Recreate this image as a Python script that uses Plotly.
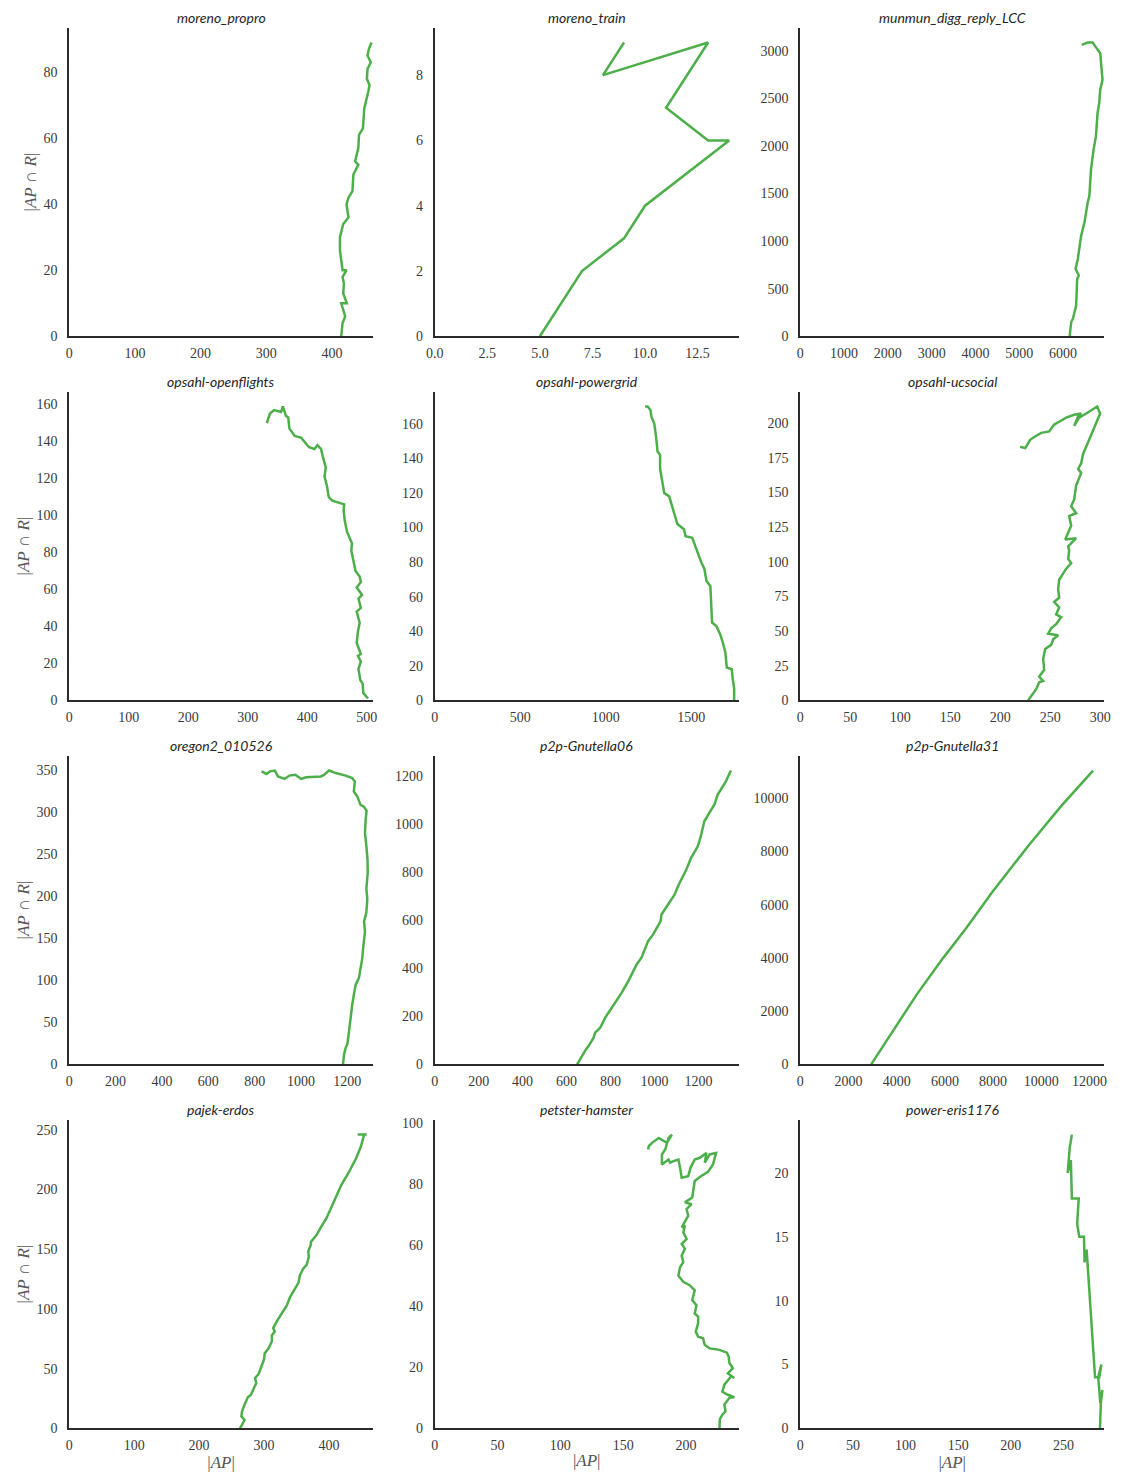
import plotly.graph_objects as go

# ---- datasets: |AP| (x) against |AP ∩ R| (y) along each run ----
titles = [
    "moreno_propro", "moreno_train", "munmun_digg_reply_LCC",
    "opsahl-openflights", "opsahl-powergrid", "opsahl-ucsocial",
    "oregon2_010526", "p2p-Gnutella06", "p2p-Gnutella31",
    "pajek-erdos", "petster-hamster", "power-eris1176",
]

propro_ap = [414, 416, 420, 414, 422.5, 417, 418, 416, 422, 416, 412, 412, 417, 425, 422, 425, 431,
             432.5, 440, 435, 440, 441, 447, 449, 455, 457, 453, 454, 459, 454, 456, 460]
propro_hits = [0, 4, 6, 10, 10, 13, 16, 18, 20, 20, 26, 30, 34, 36, 40, 42, 44,
               49, 52, 53, 57, 61, 63, 69, 74, 76, 78, 81, 83, 85, 87, 89]

train_ap = [5, 7, 9, 10, 14, 13, 11, 13, 8, 9]
train_hits = [0, 2, 3, 4, 6, 6, 7, 9, 8, 9]

digg_ap = [6150, 6188, 6226, 6300, 6323, 6361, 6286, 6338, 6414, 6489, 6564, 6602, 6639, 6677,
           6699, 6752, 6789, 6827, 6850, 6902, 6880, 6850, 6714, 6677, 6564, 6429]
digg_hits = [0, 150, 185, 324, 603, 638, 708, 813, 1057, 1196, 1406, 1475, 1754, 1894,
             1964, 2103, 2347, 2452, 2592, 2696, 2836, 2975, 3062, 3087, 3087, 3062]

flights_ap = [502, 494, 493, 489, 486, 490, 485, 490, 483, 485, 488, 483, 490, 486, 492, 483, 490,
              488, 481, 478, 474, 475, 467, 463, 461, 462, 450, 442, 436, 433, 429, 431, 426, 423,
              417, 412, 403, 400, 390, 379, 370, 368, 364, 359, 356, 344, 337, 332]
flights_hits = [1, 4, 9, 11, 17, 21, 24, 25, 31, 37, 42, 48, 50, 55, 57, 61, 64,
                67, 70, 75, 81, 85, 91, 97, 103, 106, 107, 108, 110, 116, 121, 126, 132, 136,
                138, 136, 137, 138, 142, 143, 147, 153, 154, 159, 156, 157, 155, 150]

grid_ap = [1751, 1751, 1743, 1737, 1708, 1699, 1683, 1670, 1647, 1622, 1618, 1612, 1589, 1577,
           1558, 1544, 1525, 1506, 1467, 1457, 1419, 1405, 1390, 1371, 1342, 1332, 1318, 1318,
           1303, 1295, 1284, 1268, 1261, 1245, 1230]
grid_hits = [0, 7, 12, 18, 19, 28, 34, 38, 43, 45, 53, 66, 69, 76,
             80, 84, 89, 94, 95, 99, 102, 107, 112, 118, 120, 125, 134, 142,
             144, 152, 160, 164, 168, 170, 170]

uc_ap = [228, 233, 236, 239, 243, 239, 244, 243, 245, 251, 253, 258, 248, 251, 256, 261, 256, 259,
         254, 259, 258, 259, 266, 271, 268, 269, 268, 276, 265, 271, 269, 276, 271, 274, 276, 281,
         278, 281, 283, 286, 289, 292, 294, 296, 300, 297, 292, 286, 279, 274, 278, 281, 274, 266,
         259, 254, 249, 241, 234, 230, 225, 220]
uc_hits = [0, 5, 8, 13, 14, 17, 22, 30, 37, 40, 44, 47, 48, 52, 55, 60, 62, 67,
           71, 74, 80, 87, 95, 99, 102, 108, 111, 117, 116, 126, 133, 135, 140, 145, 155, 164,
           167, 171, 178, 183, 188, 193, 196, 200, 207, 212, 210, 207, 204, 198, 205, 207, 206, 204,
           201, 199, 194, 193, 190, 188, 182, 183]

oregon_ap = [1181, 1186, 1193, 1200, 1207, 1214, 1221, 1228, 1236, 1250, 1257, 1264, 1268, 1276,
             1272, 1282, 1286, 1282, 1288, 1287, 1282, 1276, 1279, 1283, 1271, 1257, 1243, 1228,
             1232, 1221, 1193, 1150, 1121, 1100, 1086, 1022, 1000, 976, 950, 929, 901, 887, 866,
             851, 830]
oregon_hits = [0, 12, 20, 24, 39, 59, 71, 83, 95, 103, 114, 126, 138, 158,
               170, 181, 197, 209, 229, 244, 260, 276, 292, 302, 307, 309, 319, 325,
               337, 341, 344, 347, 350, 345, 343, 342, 340, 345, 344, 340, 343, 350, 349,
               346, 349]

gnu06_ap = [648, 670, 688, 700, 723, 730, 753, 776, 806, 839, 851, 881, 904, 919, 941, 961, 971,
            994, 1017, 1028, 1032, 1062, 1092, 1107, 1130, 1145, 1167, 1197, 1209, 1215, 1227,
            1245, 1273, 1288, 1325, 1348]
gnu06_hits = [0, 35, 62, 76, 111, 132, 152, 194, 235, 277, 298, 346, 388, 415, 443, 484, 512,
              540, 581, 595, 623, 664, 706, 740, 782, 810, 858, 906, 941, 969, 1010,
              1038, 1080, 1121, 1176, 1221]

gnu31_ap = [2941, 3450, 4008, 4150, 4829, 5923, 6881, 7975, 9480, 10848, 12147]
gnu31_hits = [0, 700, 1496, 1640, 2618, 3990, 5112, 6484, 8229, 9726, 11035]

erdos_ap = [263, 266, 270, 265, 266, 270, 275, 279.5, 284.5, 288, 286, 292, 296, 300, 301, 307,
            312, 312, 316.5, 314, 320, 328, 335, 340, 348, 353, 355, 360.5, 365.5, 369, 368, 372,
            372, 381, 388, 396, 406, 419, 429, 431, 441.5, 449, 453, 454, 458, 444]
erdos_hits = [0, 3, 7, 10, 14, 20, 26, 28, 34, 38, 42, 46, 52, 58, 63, 67,
              73, 78, 81, 84, 90, 97, 103, 110, 117, 122, 128, 134, 137, 144, 148, 154,
              156, 162, 169, 176, 188, 204, 213, 215, 226, 236, 243, 246, 246, 246]

hamster_ap = [226.7, 227, 229, 231.5, 230.6, 234.6, 238.5, 233.4, 229, 230.6, 235.9, 238.5, 233.4,
              237.3, 234.6, 234, 232.6, 226.7, 218.9, 215, 213.6, 209.7, 207.8, 209.7, 209.7, 207,
              208.4, 205, 207, 203, 197.9, 194, 195.3, 197.9, 196.6, 199.2, 196.6, 200.5, 197.9,
              199.2, 196.6, 201.8, 200.5, 204.5, 199.2, 205, 205.8, 207, 211, 217.5, 221.5, 224,
              218.9, 215, 216.3, 211, 207, 203.7, 201.8, 196.6, 195.3, 194, 190, 187.4, 186.1,
              180.9, 180.9, 183.5, 186.1, 188.8, 184.8, 180.9, 178.3, 173, 170.4, 169.9]
hamster_hits = [0, 3, 4.5, 5.6, 7.8, 10, 10.2, 11, 12, 14.3, 17, 16.5, 18,
                19.7, 21.4, 23.5, 24.8, 25.7, 26.2, 27.3, 29.5, 30, 31.7, 34.4, 36.6, 37.6,
                40.3, 42, 45.2, 46.9, 48, 50, 52.8, 54.4, 56.6, 58.8, 60.4, 62, 64.2,
                66.4, 65.8, 69.6, 71.8, 73.4, 74, 75.6, 77.8, 81, 82.3, 84, 86.4, 90.2,
                89.7, 87, 90.2, 88.6, 88, 85.4, 82.6, 82.1, 85.4, 88, 87.5, 87, 88,
                86.4, 89.7, 91.3, 95.1, 96.2, 93.5, 94.6, 95.1, 93.5, 92.4, 91.3]

eris_ap = [284.7, 285.5, 287, 285, 283, 286, 284, 280, 272, 270, 269.5, 265, 263, 264.5, 258,
           257, 254, 256, 258]
eris_hits = [0, 2, 3, 2, 4, 5, 4, 4, 14, 13, 15, 15, 16, 18, 18,
             21, 20, 22, 23]

series = [
    (propro_ap, propro_hits), (train_ap, train_hits), (digg_ap, digg_hits),
    (flights_ap, flights_hits), (grid_ap, grid_hits), (uc_ap, uc_hits),
    (oregon_ap, oregon_hits), (gnu06_ap, gnu06_hits), (gnu31_ap, gnu31_hits),
    (erdos_ap, erdos_hits), (hamster_ap, hamster_hits), (eris_ap, eris_hits),
]

# ---- tick values per panel ----
x_ticks = [
    [0, 100, 200, 300, 400], [0, 2.5, 5, 7.5, 10, 12.5], [0, 1000, 2000, 3000, 4000, 5000, 6000],
    [0, 100, 200, 300, 400, 500], [0, 500, 1000, 1500], [0, 50, 100, 150, 200, 250, 300],
    [0, 200, 400, 600, 800, 1000, 1200], [0, 200, 400, 600, 800, 1000, 1200],
    [0, 2000, 4000, 6000, 8000, 10000, 12000],
    [0, 100, 200, 300, 400], [0, 50, 100, 150, 200], [0, 50, 100, 150, 200, 250],
]
y_ticks = [
    [0, 20, 40, 60, 80], [0, 2, 4, 6, 8], [0, 500, 1000, 1500, 2000, 2500, 3000],
    list(range(0, 161, 20)), list(range(0, 161, 20)), list(range(0, 201, 25)),
    list(range(0, 351, 50)), list(range(0, 1201, 200)), list(range(0, 10001, 2000)),
    list(range(0, 251, 50)), list(range(0, 101, 20)), [0, 5, 10, 15, 20],
]


def tick_labels(vals):
    # one decimal everywhere if any tick is fractional, otherwise plain integers
    if any(v != int(v) for v in vals):
        return ["%.1f" % v for v in vals]
    return [str(int(v)) for v in vals]


W, H = 1122, 1482
col_left = [61, 431.5, 802]
plot_w = 308
row_top = [24, 391, 758, 1125]
plot_h = 311

GREEN = "#4daf4a"
SPINE = "#2b2b2b"
SERIF = "Liberation Serif"
tick_font = dict(family=SERIF, size=14, color="#3a3a3a")
label_font = dict(family=SERIF, size=17, color="#555555")
title_font = dict(family="Lato", size=14, color="#262626")

fig = go.Figure()
annotations = []

for i, (xs, ys) in enumerate(series):
    r, c = divmod(i, 3)
    k = "" if i == 0 else str(i + 1)
    fig.add_trace(go.Scatter(
        x=xs, y=ys, mode="lines", xaxis="x" + k, yaxis="y" + k,
        line=dict(color=GREEN, width=2.5), showlegend=False, hoverinfo="skip",
    ))
    x0 = col_left[c] / W
    x1 = (col_left[c] + plot_w) / W
    y1 = 1 - row_top[r] / H
    y0 = 1 - (row_top[r] + plot_h) / H
    xmax = max(xs) + 0.05 * (max(xs) - min(xs))
    ymax = max(ys) + 0.05 * (max(ys) - min(ys))
    xa = dict(
        domain=[x0, x1], anchor="y" + k, range=[0, xmax],
        showline=True, linecolor=SPINE, linewidth=1.8, mirror=False,
        showgrid=False, zeroline=False,
        ticks="outside", ticklen=3, tickcolor="rgba(0,0,0,0)",
        tickvals=x_ticks[i], ticktext=tick_labels(x_ticks[i]), tickfont=tick_font,
    )
    if r == 3:
        xa["title"] = dict(text="|<i>AP</i>|", font=label_font, standoff=2)
    ya = dict(
        domain=[y0, y1], anchor="x" + k, range=[0, ymax],
        showline=True, linecolor=SPINE, linewidth=1.8, mirror=False,
        showgrid=False, zeroline=False,
        ticks="outside", ticklen=7, tickcolor="rgba(0,0,0,0)",
        tickvals=y_ticks[i], ticktext=tick_labels(y_ticks[i]), tickfont=tick_font,
    )
    if c == 0:
        ya["title"] = dict(text="|<i>AP</i> ∩ <i>R</i>|", font=label_font, standoff=3)
    fig.layout["xaxis" + k] = xa
    fig.layout["yaxis" + k] = ya
    annotations.append(dict(
        text="<i>" + titles[i] + "</i>", x=(x0 + x1) / 2, y=1 - (row_top[r] - 10) / H,
        xref="paper", yref="paper", xanchor="center", yanchor="middle",
        showarrow=False, font=title_font,
    ))

fig.update_layout(
    width=W, height=H, margin=dict(l=0, r=0, t=0, b=0),
    paper_bgcolor="white", plot_bgcolor="white",
    annotations=annotations,
)

fig.write_html("out.html")
